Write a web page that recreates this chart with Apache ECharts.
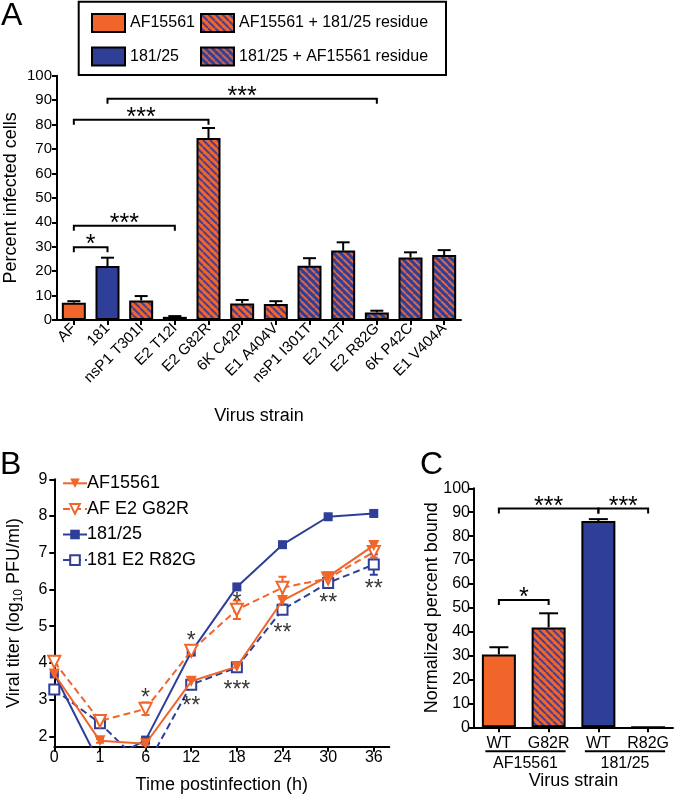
<!DOCTYPE html>
<html><head><meta charset="utf-8">
<script src="https://cdn.jsdelivr.net/npm/echarts@6/dist/echarts.min.js"></script>
<style>html,body{margin:0;padding:0;background:#fff}#c{width:680px;height:795px}</style>
</head><body><div id="c"></div>
<script>
// ---------- Panel A data ----------
const strainsA = ['AF','181','nsP1 T301I','E2 T12I','E2 G82R','6K C42P','E1 A404V','nsP1 I301T','E2 I12T','E2 R82G','6K P42C','E1 V404A'];
const infectedA = [7.1, 22.1, 8.0, 1.3, 74.5, 6.8, 6.5, 22.2, 28.4, 3.1, 25.6, 26.6];
const infectedErrA = [0.6, 3.4, 1.8, 0.3, 4.1, 1.4, 1.2, 3.1, 3.4, 0.7, 2.1, 2.0];
const strainTypeA = [0,1,2,2,2,2,2,3,3,3,3,3];
const typeNames = ['AF15561','181/25','AF15561 + 181/25 residue','181/25 + AF15561 residue'];
const bracketsA = [[0,1,29.8,'*'],[0,3,38.6,'***'],[0,4,82,'***'],[1,9,90.6,'***']];

// ---------- Panel B data ----------
const timesB = ['0','1','6','12','18','24','30','36'];
const namesB = ['AF15561','AF E2 G82R','181/25','181 E2 R82G'];
const titerAF = [3.7, 1.88, 1.8, 3.5, 3.9, 5.7, 6.35, 7.2];
const titerAFG82R = [4.03, 2.42, 2.75, 4.33, 5.45, 6.05, 6.3, 7.02];
const titer181 = [3.7, 1.24, 1.9, 4.3, 6.07, 7.22, 7.98, 8.07];
const titer181R82G = [3.28, 2.36, 1.14, 3.41, 3.88, 5.45, 6.18, 6.68];
const errAF = [0.05, 0.05, 0.05, 0.08, 0.05, 0.1, 0.08, 0.12];
const errAFG82R = [0.08, 0.1, 0.17, 0.13, 0.25, 0.3, 0.08, 0.15];
const err181 = [0.05, 0, 0.05, 0.08, 0.05, 0.05, 0.07, 0.08];
const err181R82G = [0.05, 0.05, 0, 0.08, 0.05, 0.1, 0.08, 0.28];
const starsB = [[2,3.2,'*'],[3,4.75,'*'],[3,2.97,'**'],[4,5.81,'*'],[4,3.41,'***'],[5,4.97,'**'],[6,5.78,'**'],[7,6.16,'**']];
const ticksBy = [2,3,4,5,6,7,8,9];

// ---------- Panel C data ----------
const variantsC = ['WT','G82R','WT','R82G'];
const boundC = [30.5, 41.8, 86.3, 0];
const boundErrC = [3.0, 5.9, 0.8, 0];
const variantTypeC = [0,2,1,3];
const groupsC = [['AF15561',0,1],['181/25',2,3]];
const bracketsC = [[0,1,53.3,'*'],[0,2,91.6,'***'],[2,3,91.6,'***']];

// ---------- styling ----------
const FONT = "'Liberation Sans', Arial, Helvetica, sans-serif";
const ORANGE = '#F1652B', BLUE = '#2F3F97';
function hatch(base, stripe, w) {
  const s = 7, c = document.createElement('canvas');
  c.width = s; c.height = s;
  const g = c.getContext('2d');
  g.fillStyle = base; g.fillRect(0, 0, s, s);
  g.strokeStyle = stripe; g.lineWidth = w;
  g.beginPath();
  for (let k = -1; k <= 1; k++) { g.moveTo(k * s, 0); g.lineTo(k * s + s, s); }
  g.stroke();
  return { image: c, repeat: 'repeat' };
}
const fills = [ORANGE, BLUE, hatch(ORANGE, '#4B3F8C', 2), hatch(BLUE, '#D8664C', 2)];

const chart = echarts.init(document.getElementById('c'), null, { renderer: 'canvas', width: 680, height: 795 });

const lineS = { color: '#000', width: 2 };
function xCat(grid, data, extra) {
  return Object.assign({
    gridIndex: grid, type: 'category', data: data,
    axisLine: { show: true, lineStyle: lineS },
    axisTick: { show: true, alignWithLabel: true, length: 5, lineStyle: lineS },
    splitLine: { show: false },
    nameTextStyle: { color: '#000', fontFamily: FONT, fontSize: 18 },
    nameMoveOverlap: false
  }, extra);
}
function yVal(grid, extra) {
  return Object.assign({
    gridIndex: grid, type: 'value',
    axisLine: { show: true, lineStyle: lineS },
    axisTick: { show: true, length: 5, lineStyle: lineS },
    splitLine: { show: false },
    nameTextStyle: { color: '#000', fontFamily: FONT, fontSize: 18 },
    nameMoveOverlap: false
  }, extra);
}

function errUpRender(vals, errs, cap) {
  return function (params, api) {
    const i = params.dataIndex;
    if (!errs[i]) return null;
    const p0 = api.coord([i, vals[i]]), p1 = api.coord([i, vals[i] + errs[i]]);
    return { type: 'group', children: [
      { type: 'line', shape: { x1: p0[0], y1: p0[1], x2: p1[0], y2: p1[1] }, style: { stroke: '#000', lineWidth: 2 } },
      { type: 'line', shape: { x1: p1[0] - cap, y1: p1[1], x2: p1[0] + cap, y2: p1[1] }, style: { stroke: '#000', lineWidth: 2 } }
    ] };
  };
}
function bracketRender(list, tick, above, fs) {
  return function (params, api) {
    const b = list[params.dataIndex];
    const p1 = api.coord([b[0], b[2]]), p2 = api.coord([b[1], b[2]]);
    return { type: 'group', children: [
      { type: 'polyline', shape: { points: [[p1[0], p1[1] + tick], [p1[0], p1[1]], [p2[0], p2[1]], [p2[0], p2[1] + tick]] },
        style: { stroke: '#000', lineWidth: 2, fill: null } },
      { type: 'text', x: (p1[0] + p2[0]) / 2, y: p1[1] - above + 0.27 * fs,
        style: { text: b[3], fontSize: fs, fontFamily: FONT, fill: '#000', align: 'center', verticalAlign: 'middle' } }
    ] };
  };
}
function errBothRender(vals, errs, color) {
  return function (params, api) {
    const i = params.dataIndex;
    if (!errs[i]) return null;
    const p0 = api.coord([i, vals[i] - errs[i]]), p1 = api.coord([i, vals[i] + errs[i]]);
    const cap = 4;
    return { type: 'group', children: [
      { type: 'line', shape: { x1: p0[0], y1: p0[1], x2: p1[0], y2: p1[1] }, style: { stroke: color, lineWidth: 2 } },
      { type: 'line', shape: { x1: p0[0] - cap, y1: p0[1], x2: p0[0] + cap, y2: p0[1] }, style: { stroke: color, lineWidth: 2 } },
      { type: 'line', shape: { x1: p1[0] - cap, y1: p1[1], x2: p1[0] + cap, y2: p1[1] }, style: { stroke: color, lineWidth: 2 } }
    ] };
  };
}

const series = [];
// Panel A bars, one series per strain type
typeNames.forEach(function (nm, t) {
  series.push({
    name: nm, type: 'bar', xAxisIndex: 0, yAxisIndex: 0, stack: 'A', barWidth: 24,
    data: infectedA.map(function (v, i) { return strainTypeA[i] === t ? v : '-'; }),
    itemStyle: { color: fills[t], borderColor: '#000', borderWidth: 2 },
    z: 3
  });
});
series.push({ type: 'custom', xAxisIndex: 0, yAxisIndex: 0, data: infectedA.map(function (v, i) { return [i, v + infectedErrA[i]]; }),
  renderItem: errUpRender(infectedA, infectedErrA, 6.5), z: 2 });
series.push({ type: 'custom', xAxisIndex: 0, yAxisIndex: 0, data: bracketsA.map(function (b) { return [b[0], b[2]]; }),
  renderItem: bracketRender(bracketsA, 5, 8.5, 25), z: 4 });

// Panel B lines (drawn blue first so orange marks sit on top)
const bSets = [
  { v: titerAF, e: errAF, color: ORANGE, dash: 'solid', symbol: 'triangle', size: 11, rot: 180, z: 6 },
  { v: titerAFG82R, e: errAFG82R, color: ORANGE, dash: [7, 4], symbol: 'emptyTriangle', size: 12, rot: 180, z: 5 },
  { v: titer181, e: err181, color: BLUE, dash: 'solid', symbol: 'rect', size: 9, rot: 0, z: 4 },
  { v: titer181R82G, e: err181R82G, color: BLUE, dash: [7, 4], symbol: 'emptyRect', size: 10, rot: 0, z: 3 }
];
bSets.forEach(function (s, k) {
  series.push({ type: 'custom', xAxisIndex: 1, yAxisIndex: 1, data: s.v.map(function (v, i) { return [i, v]; }),
    renderItem: errBothRender(s.v, s.e, s.color), clip: true, z: 2 });
  series.push({
    name: 'B|' + namesB[k], type: 'line', xAxisIndex: 1, yAxisIndex: 1,
    data: s.v.map(function (v, i) { return [i, v]; }),
    lineStyle: { color: s.color, width: 2, type: s.dash },
    itemStyle: { color: s.color },
    symbol: s.symbol, symbolSize: s.size, symbolRotate: s.rot, showAllSymbol: true,
    clip: true, z: s.z
  });
});
series.push({ type: 'scatter', xAxisIndex: 1, yAxisIndex: 1, symbolSize: 0, silent: true, z: 8,
  data: starsB.map(function (s) { return [s[0], s[1]]; }),
  label: { show: true, position: 'inside', offset: [0, 6.2], color: '#000', fontFamily: FONT, fontSize: 23,
    formatter: function (p) { return starsB[p.dataIndex][2]; } } });

// Panel C bars
series.push({ type: 'bar', xAxisIndex: 2, yAxisIndex: 2, barWidth: 34,
  data: boundC.map(function (v, i) { return { value: v, itemStyle: { color: fills[variantTypeC[i]] } }; }),
  itemStyle: { borderColor: '#000', borderWidth: 2 }, z: 3 });
series.push({ type: 'custom', xAxisIndex: 2, yAxisIndex: 2, data: boundC.map(function (v, i) { return [i, v + boundErrC[i]]; }),
  renderItem: errUpRender(boundC, boundErrC, 9.5), z: 2 });
series.push({ type: 'custom', xAxisIndex: 2, yAxisIndex: 2, data: bracketsC.map(function (b) { return [b[0], b[2]]; }),
  renderItem: bracketRender(bracketsC, 5, 8.3, 25), z: 4 });
series.push({ type: 'custom', xAxisIndex: 2, yAxisIndex: 2, data: groupsC.map(function (g) { return [g[1], 0]; }),
  renderItem: function (params, api) {
    const g = groupsC[params.dataIndex];
    const a = api.coord([g[1], 0]), b = api.coord([g[2], 0]);
    const x1 = a[0] - 13.5, x2 = b[0] + 17, y = a[1] + 24;
    return { type: 'group', children: [
      { type: 'line', shape: { x1: x1, y1: y, x2: x2, y2: y }, style: { stroke: '#000', lineWidth: 2 } },
      { type: 'text', x: (x1 + x2) / 2, y: y + 12.5, style: { text: g[0], fontSize: 16, fontFamily: FONT, fill: '#000', align: 'center', verticalAlign: 'middle' } }
    ] };
  }, z: 4 });

const option = {
  animation: false,
  backgroundColor: '#fff',
  textStyle: { fontFamily: FONT, color: '#000' },
  grid: [
    { left: 57, top: 75.7, width: 404, height: 244.3, outerBoundsMode: 'none' },
    { left: 54.3, top: 479.3, width: 335, height: 267.4, outerBoundsMode: 'none' },
    { left: 474, top: 488.3, width: 199, height: 239, outerBoundsMode: 'none' }
  ],
  xAxis: [
    xCat(0, strainsA, { axisLabel: { rotate: 45, interval: 0, fontSize: 15, margin: 6, color: '#000', fontFamily: FONT },
      name: 'Virus strain', nameLocation: 'middle', nameGap: 87 }),
    {
      gridIndex: 1, type: 'value', min: 0, max: 7.34,
      axisLine: { show: true, lineStyle: lineS },
      axisTick: { show: true, length: 5, lineStyle: lineS, customValues: [0,1,2,3,4,5,6,7] },
      axisLabel: { customValues: [0,1,2,3,4,5,6,7], formatter: function (v) { return timesB[Math.round(v)]; },
        fontSize: 16, margin: 3, color: '#000', fontFamily: FONT },
      splitLine: { show: false },
      name: 'Time postinfection (h)', nameLocation: 'middle', nameGap: 29, nameMoveOverlap: false,
      nameTextStyle: { color: '#000', fontFamily: FONT, fontSize: 18 }
    },
    xCat(2, variantsC, { axisLabel: { interval: 0, fontSize: 16, margin: 8, color: '#000', fontFamily: FONT },
      name: 'Virus strain', nameLocation: 'middle', nameGap: 45 })
  ],
  yAxis: [
    yVal(0, { min: 0, max: 100, interval: 10, axisLabel: { fontSize: 15, margin: 5, color: '#000', fontFamily: FONT },
      name: 'Percent infected cells', nameLocation: 'middle', nameGap: 37 }),
    yVal(1, { min: 1.72, max: 9,
      axisTick: { show: true, length: 5, lineStyle: lineS, customValues: ticksBy },
      axisLabel: { customValues: ticksBy, fontSize: 16, margin: 7, color: '#000', fontFamily: FONT },
      name: 'Viral titer (log{sub|10} PFU/ml)', nameLocation: 'middle', nameGap: 30,
      nameTextStyle: { color: '#000', fontFamily: FONT, fontSize: 18,
        rich: { sub: { fontSize: 12, fontFamily: FONT, color: '#000', padding: [8, 0, 0, 0] } } } }),
    yVal(2, { min: 0, max: 100, interval: 10, axisLabel: { fontSize: 16, margin: 4, color: '#000', fontFamily: FONT },
      name: 'Normalized percent bound', nameLocation: 'middle', nameGap: 33 })
  ],
  legend: [
    { data: [typeNames[0], typeNames[1]], orient: 'vertical', left: 91, top: 13, itemWidth: 33, itemHeight: 18, itemGap: 13.5,
      icon: 'rect', selectedMode: false, padding: 0,
      textStyle: { fontSize: 16, fontFamily: FONT, color: '#000', lineHeight: 18 } },
    { data: [typeNames[2], typeNames[3]], orient: 'vertical', left: 200, top: 13, itemWidth: 33, itemHeight: 18, itemGap: 13.5,
      icon: 'rect', selectedMode: false, padding: 0,
      textStyle: { fontSize: 16, fontFamily: FONT, color: '#000', lineHeight: 18 } },
    { data: namesB.map(function (n) { return 'B|' + n; }), orient: 'vertical', left: 62, top: 473.3, itemWidth: 24, itemHeight: 12, itemGap: 5.6,
      selectedMode: false, padding: 0, formatter: function (n) { return n.split('|')[1]; },
      textStyle: { fontSize: 18, fontFamily: FONT, color: '#000', lineHeight: 20, padding: [0, 0, 0, -5] } }
  ],
  graphic: [
    { type: 'rect', shape: { x: 78.7, y: 1.7, width: 367.3, height: 73.3 }, style: { fill: null, stroke: '#000', lineWidth: 2 } },
    { type: 'text', x: 1, y: 16.5, style: { text: 'A', fontSize: 32, fontFamily: FONT, fill: '#000', align: 'left', verticalAlign: 'middle' } },
    { type: 'text', x: 0, y: 465.5, style: { text: 'B', fontSize: 32, fontFamily: FONT, fill: '#000', align: 'left', verticalAlign: 'middle' } },
    { type: 'text', x: 420, y: 465, style: { text: 'C', fontSize: 32, fontFamily: FONT, fill: '#000', align: 'left', verticalAlign: 'middle' } }
  ],
  series: series
};
chart.setOption(option);
</script>
</body></html>
